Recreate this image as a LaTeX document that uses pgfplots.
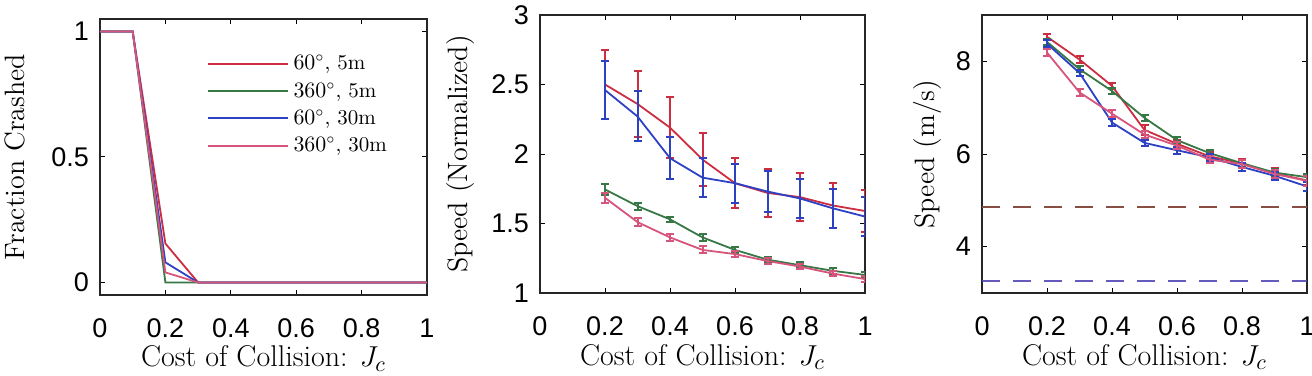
\documentclass[border=0pt]{standalone}
\usepackage{fontspec}
\usepackage{pgfplots}
\pgfplotsset{compat=1.18}
\usepackage{pgfplotstable}
\newfontfamily\tickfont{Liberation Sans}
\definecolor{cR}{RGB}{205,45,65}
\definecolor{cG}{RGB}{55,120,70}
\definecolor{cB}{RGB}{45,65,195}
\definecolor{cP}{RGB}{215,85,125}

\pgfplotstableread{
x    r     g    b    p
0    1     1    1    1
0.1  1     1    1    1
0.2  0.155 0    0.08 0.04
0.3  0     0    0    0
0.4  0     0    0    0
0.5  0     0    0    0
0.6  0     0    0    0
0.7  0     0    0    0
0.8  0     0    0    0
0.9  0     0    0    0
1.0  0     0    0    0
}\tabA

\pgfplotstableread{
x    r     re    g     ge     b     be    p     pe
0.2  2.50  0.25  1.745 0.04   2.46  0.21  1.685 0.035
0.3  2.36  0.24  1.625 0.025  2.27  0.18  1.51  0.03
0.4  2.19  0.22  1.53  0.02   1.97  0.15  1.40  0.025
0.5  1.96  0.19  1.40  0.025  1.83  0.14  1.31  0.025
0.6  1.79  0.18  1.31  0.02   1.79  0.14  1.28  0.02
0.7  1.72  0.17  1.24  0.02   1.73  0.15  1.23  0.02
0.8  1.69  0.17  1.20  0.02   1.68  0.14  1.19  0.02
0.9  1.63  0.16  1.16  0.02   1.61  0.14  1.14  0.02
1.0  1.59  0.15  1.13  0.02   1.55  0.14  1.10  0.02
}\tabB

\pgfplotstableread{
x    r     re    g     ge    b     be    p     pe
0.2  8.53  0.07  8.42  0.07  8.38  0.07  8.19  0.07
0.3  8.04  0.07  7.83  0.07  7.75  0.07  7.33  0.08
0.4  7.47  0.07  7.36  0.07  6.68  0.08  6.87  0.08
0.5  6.52  0.10  6.78  0.07  6.24  0.07  6.42  0.08
0.6  6.22  0.08  6.30  0.07  6.08  0.08  6.18  0.08
0.7  5.95  0.09  6.02  0.07  5.93  0.08  5.88  0.08
0.8  5.80  0.10  5.80  0.07  5.72  0.09  5.78  0.09
0.9  5.58  0.11  5.60  0.07  5.53  0.09  5.57  0.09
1.0  5.43  0.09  5.50  0.07  5.30  0.09  5.42  0.10
}\tabC

\pgfplotsset{
  panel/.style={
    scale only axis,
    xmin=0, xmax=1,
    xtick={0,0.2,0.4,0.6,0.8,1},
    tick align=inside,
    xtick pos=both, ytick pos=both,
    major tick length=2.5pt,
    every tick/.style={black, line width=0.5pt},
    axis line style={line width=0.6pt, black!85},
    tick label style={font=\tickfont\fontsize{13.5}{15}\selectfont},
    /pgf/number format/assume math mode=true,
    xticklabel style={yshift=-8.5pt},
    yticklabel style={xshift=-2pt},
    ylabel style={font=\fontsize{14}{16}\selectfont},
    xlabel style={font=\fontsize{15}{17}\selectfont, at={(axis description cs:0.5,-0.23)}, anchor=center},
    xlabel={Cost of Collision: $J_c$},
  },
  eb/.style={line width=0.9pt, #1,
    error bars/.cd, y dir=both, y explicit,
    error bar style={line width=1pt, #1},
    error mark options={rotate=90, mark size=2pt, line width=1pt, #1}},
}

\begin{document}
\begin{tikzpicture}
\useasboundingbox (0pt,0pt) rectangle (656pt,187.5pt);

% Panel 1
\begin{axis}[panel, at={(50pt,40pt)}, anchor=south west,
  width=163.5pt, height=138pt,
  ymin=-0.05, ymax=1.05, ytick={0,0.5,1},
  ylabel={Fraction Crashed},
  ylabel style={at={(axis description cs:-0.26,0.5)}, anchor=center},
  legend style={at={(0.326,0.888)}, anchor=north west, draw=none, fill=none,
    font=\fontsize{10.5}{12}\selectfont, inner sep=0pt, row sep=0pt,
    nodes={inner sep=0.5pt, text height=9.3pt, text depth=3.3pt}},
  legend cell align=left,
]
\addlegendimage{cR, line width=1pt, legend image code/.code={\draw[cR, line width=1pt] (0pt,0pt) -- (40pt,0pt);}}
\addlegendentry{\,$60^\circ$, 5m}
\addlegendimage{cG, line width=1pt, legend image code/.code={\draw[cG, line width=1pt] (0pt,0pt) -- (40pt,0pt);}}
\addlegendentry{\,$360^\circ$, 5m}
\addlegendimage{cB, line width=1pt, legend image code/.code={\draw[cB, line width=1pt] (0pt,0pt) -- (40pt,0pt);}}
\addlegendentry{\,$60^\circ$, 30m}
\addlegendimage{cP, line width=1pt, legend image code/.code={\draw[cP, line width=1pt] (0pt,0pt) -- (40pt,0pt);}}
\addlegendentry{\,$360^\circ$, 30m}
\addplot[cR, line width=0.9pt, forget plot] table[x=x, y=r]{\tabA};
\addplot[cG, line width=0.9pt, forget plot] table[x=x, y=g]{\tabA};
\addplot[cB, line width=0.9pt, forget plot] table[x=x, y=b]{\tabA};
\addplot[cP, line width=0.9pt, forget plot] table[x=x, y=p]{\tabA};
\end{axis}

% Panel 2
\begin{axis}[panel, at={(270pt,41pt)}, anchor=south west,
  width=162.5pt, height=139pt,
  ymin=1, ymax=3, ytick={1,1.5,2,2.5,3},
  ylabel={Speed (Normalized)},
  ylabel style={at={(axis description cs:-0.246,0.5)}, anchor=center},
]
\addplot[eb=cR] table[x=x, y=r, y error=re]{\tabB};
\addplot[eb=cG] table[x=x, y=g, y error=ge]{\tabB};
\addplot[eb=cB] table[x=x, y=b, y error=be]{\tabB};
\addplot[eb=cP] table[x=x, y=p, y error=pe]{\tabB};
\end{axis}

% Panel 3
\begin{axis}[panel, at={(491pt,41pt)}, anchor=south west,
  width=162.5pt, height=139pt,
  ymin=3, ymax=9, ytick={4,6,8},
  ylabel={Speed (m/s)},
  ylabel style={at={(axis description cs:-0.169,0.5)}, anchor=center},
]
\addplot[cG, line width=1.1pt, dash pattern=on 9pt off 6.5pt] coordinates {(0,4.855) (1,4.855)};
\addplot[cR, line width=1.1pt, dash pattern=on 9pt off 6.5pt, opacity=0.55] coordinates {(0,4.86) (1,4.86)};
\addplot[cP, line width=1pt, dash pattern=on 9pt off 6.5pt, opacity=0.6] coordinates {(0,3.26) (1,3.26)};
\addplot[cB, line width=1pt, dash pattern=on 9pt off 6.5pt, opacity=0.7] coordinates {(0,3.25) (1,3.25)};
\addplot[eb=cR] table[x=x, y=r, y error=re]{\tabC};
\addplot[eb=cG] table[x=x, y=g, y error=ge]{\tabC};
\addplot[eb=cB] table[x=x, y=b, y error=be]{\tabC};
\addplot[eb=cP] table[x=x, y=p, y error=pe]{\tabC};
\end{axis}
\end{tikzpicture}
\end{document}
